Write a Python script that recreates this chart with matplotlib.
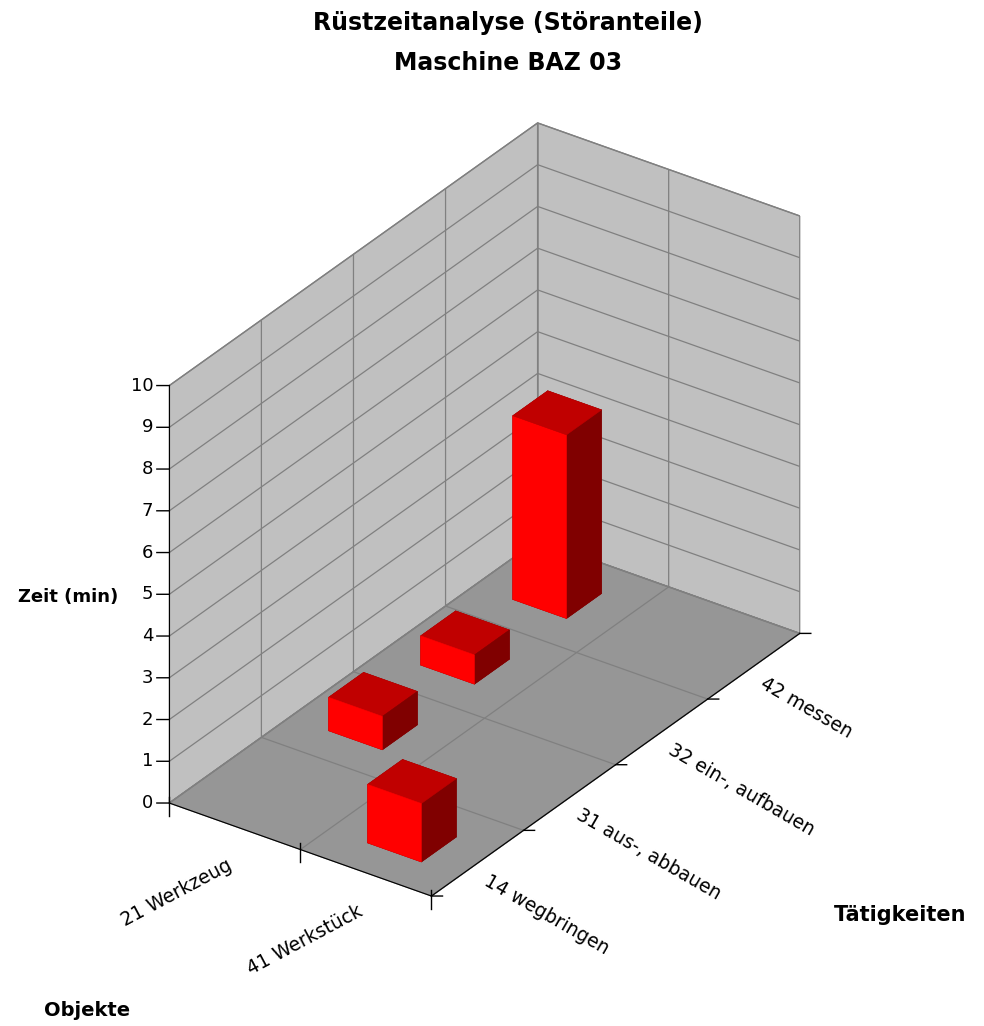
import numpy as np
import matplotlib
matplotlib.use("Agg")
import matplotlib.pyplot as plt
from mpl_toolkits.mplot3d import proj3d

# ---------- Daten ----------
objekte = ["21 Werkzeug", "41 Werkstück"]
taetigkeiten = ["14 wegbringen", "31 aus-, abbauen", "32 ein-, aufbauen", "42 messen"]
zeit_werkzeug = [0.0, 0.8, 0.7, 4.4]
zeit_werkstueck = [1.4, 0.0, 0.0, 0.0]
zeit_ticks = list(range(0, 11))

# ---------- Farben ----------
wand = "#C0C0C0"
boden = "#969696"
linie = "#808080"
rot_vorne = "#FF0000"
rot_oben = "#C00000"
rot_seite = "#800000"

plt.rcParams["grid.color"] = linie
plt.rcParams["grid.linewidth"] = 0.9

fig = plt.figure(figsize=(9.84, 10.26), dpi=100)
ax = fig.add_axes([0.0553, 0.0842, 0.8512, 0.8164], projection="3d", proj_type="ortho")
ax.view_init(elev=30.2, azim=-144.8)
ax.set_box_aspect((1, 0.502, 0.756))

n_t = len(taetigkeiten)
n_o = len(objekte)

# Säulen (x = Tätigkeit, y = Objekt, vorne = letztes Objekt)
dx, dy = 0.38, 0.41
bx, by, bz, farben = [], [], [], []
for j, reihe in enumerate([zeit_werkzeug, zeit_werkstueck]):
    for i, w in enumerate(reihe):
        if w > 0:
            bx.append(i + 0.5 - dx / 2)
            by.append(n_o - j - 0.5 - dy / 2)
            bz.append(w)
            # Reihenfolge der Flächen: -z, +z, -y, +y, -x, +x
            farben += [rot_seite, rot_oben, rot_seite, rot_seite, rot_vorne, rot_seite]

ax.bar3d(bx, by, np.zeros(len(bx)), dx, dy, bz, color=farben, edgecolor=farben,
         linewidth=0.4, shade=False)

# Richtung, die im Bild waagerecht nach links zeigt
links = np.array([-1.0, 1.414, 0.0])

# Teilstriche: Zeitachse nach links, Objekte senkrecht, Tätigkeiten nach rechts
for k in zeit_ticks:
    q = np.array([0, n_o, k]) + 0.045 * links
    ax.plot([0, q[0]], [n_o, q[1]], [k, q[2]], color="black", lw=1)
for j in range(n_o + 1):
    ax.plot([0, 0], [j, j], [0.15, -0.3], color="black", lw=1)
for i in range(n_t + 1):
    q = np.array([i, 0, 0]) - 0.04 * links
    ax.plot([i, q[0]], [0, q[1]], [0, q[2]], color="black", lw=1)

ax.set_xlim(0, n_t)
ax.set_ylim(0, n_o)
ax.set_zlim(0, 10)
ax.set_xticks(range(n_t + 1))
ax.set_yticks(range(n_o + 1))
ax.set_zticks(zeit_ticks)

# Wände und Boden
ax.xaxis.set_pane_color(wand)
ax.yaxis.set_pane_color(wand)
ax.zaxis.set_pane_color(boden)
for a in (ax.xaxis, ax.yaxis, ax.zaxis):
    a.pane.set_edgecolor(linie)
    a.line.set_color("black")
    a._axinfo["tick"]["inward_factor"] = 0.0
    a._axinfo["tick"]["outward_factor"] = 0.0
    a.set_tick_params(label1On=False)

# ---------- Beschriftungen (3D-Punkt -> 2D-Bildkoordinaten) ----------
M = ax.get_proj()


def bild(x, y, z):
    px, py, _ = proj3d.proj_transform(x, y, z, M)
    return px, py


for k in zeit_ticks:
    ax.annotate(str(k), xy=bild(0, n_o, k), xytext=(-16, 0), textcoords="offset pixels",
                fontsize=13, ha="right", va="center", annotation_clip=False)
for i, name in enumerate(taetigkeiten):
    ax.annotate(name, xy=bild(i + 0.5, 0, 0), xytext=(13, -8), textcoords="offset pixels",
                fontsize=13.5, rotation=-30, ha="left", va="top",
                rotation_mode="anchor", annotation_clip=False)
for j, name in enumerate(objekte):
    ax.annotate(name, xy=bild(0, n_o - j - 0.5, 0), xytext=(-9, -29), textcoords="offset pixels",
                fontsize=13.5, rotation=28, ha="right", va="top",
                rotation_mode="anchor", annotation_clip=False)

# Titel und Achsentitel
fig.text(0.516, 1 - 30 / 1026, "Rüstzeitanalyse (Störanteile)", ha="center", va="baseline",
         fontsize=17, fontweight="bold")
fig.text(0.516, 1 - 70 / 1026, "Maschine BAZ 03", ha="center", va="baseline",
         fontsize=17, fontweight="bold")
fig.text(68 / 984, 1 - 597 / 1026, "Zeit (min)", ha="center", va="center",
         fontsize=13, fontweight="bold")
fig.text(900 / 984, 1 - 915 / 1026, "Tätigkeiten", ha="center", va="center",
         fontsize=15, fontweight="bold")
fig.text(87 / 984, 1 - 1010 / 1026, "Objekte", ha="center", va="center",
         fontsize=14, fontweight="bold")

fig.savefig("out.png", dpi=100)
